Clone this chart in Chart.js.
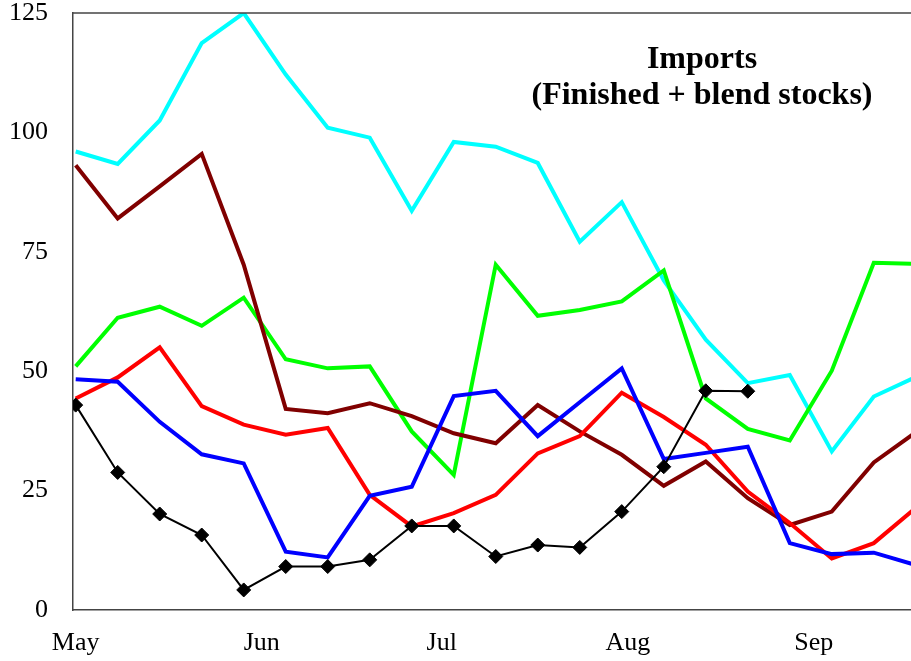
<!DOCTYPE html>
<html>
<head>
<meta charset="utf-8">
<script src="https://cdn.jsdelivr.net/npm/chart.js@4/dist/chart.umd.min.js"></script>
<style>
  html, body { margin: 0; padding: 0; background: #fff; }
  #wrap { width: 911px; height: 661px; }
</style>
</head>
<body>
<div id="wrap"><canvas id="importsChart" width="911" height="661"></canvas></div>
<script>
// days since May 1 for each weekly reading
const weekDays = [0, 7, 14, 21, 28, 35, 42, 49, 56, 63, 70, 77, 84, 91, 98, 105, 112, 119, 126, 133, 140];

// month axis labels, placed on the first of each month
const monthDays = [0, 31, 61, 92, 123];
const monthLabels = ['May', 'Jun', 'Jul', 'Aug', 'Sep'];
const yTicks = [0, 25, 50, 75, 100, 125];

const cyanVals  = [96.0, 93.4, 102.5, 118.7, 125.0, 112.1, 101.0, 98.9, 83.6, 98.0, 97.0, 93.6, 77.1, 85.4, 69.0, 56.6, 47.5, 49.2, 33.2, 44.7, 48.8];
const greenVals = [51.0, 61.2, 63.5, 59.5, 65.4, 52.5, 50.6, 51.0, 37.4, 28.3, 72.3, 61.6, 62.8, 64.6, 71.1, 44.3, 37.9, 35.5, 50.1, 72.7, 72.5];
const brownVals = [93.1, 82.0, 88.7, 95.5, 72.3, 42.1, 41.2, 43.3, 40.6, 37.0, 34.9, 42.9, 37.4, 32.5, 26.0, 31.1, 23.4, 17.8, 20.6, 30.9, 37.2];
const redVals   = [44.3, 48.7, 55.0, 42.7, 38.8, 36.7, 38.1, 24.1, 17.5, 20.3, 24.1, 32.8, 36.4, 45.5, 40.4, 34.6, 24.8, 18.2, 10.8, 14.0, 21.4];
const blueVals  = [48.3, 47.8, 39.4, 32.6, 30.7, 12.2, 11.0, 23.9, 25.8, 44.8, 45.9, 36.4, 43.5, 50.6, 31.6, 32.9, 34.2, 14.0, 11.7, 12.0, 9.4];
const blackVals = [42.9, 28.8, 20.1, 15.7, 4.2, 9.1, 9.1, 10.5, 17.6, 17.6, 11.2, 13.6, 13.1, 20.6, 30.0, 45.9, 45.8];

const titleLines = ['Imports', '(Finished + blend stocks)'];
const serif = '"Liberation Serif", "Times New Roman", Times, serif';

function toPoints(vals) {
    return vals.map((v, i) => ({ x: weekDays[i], y: v }));
}

function lineSet(label, vals, color, width) {
    return {
        label: label,
        data: toPoints(vals),
        borderColor: color,
        backgroundColor: color,
        borderWidth: width,
        pointRadius: 0,
        tension: 0,
        fill: false
    };
}

// frame line along the top + title text inside the plot
const frameAndTitle = {
    id: 'frameAndTitle',
    afterDraw(chart) {
        const { ctx, chartArea } = chart;
        ctx.save();
        ctx.strokeStyle = '#444';
        ctx.lineWidth = 1.5;
        ctx.beginPath();
        ctx.moveTo(chartArea.left, chartArea.top);
        ctx.lineTo(chartArea.right, chartArea.top);
        ctx.stroke();

        ctx.fillStyle = '#000';
        ctx.font = 'bold 32px ' + serif;
        ctx.textAlign = 'center';
        ctx.textBaseline = 'alphabetic';
        ctx.fillText(titleLines[0], 702, 68);
        ctx.fillText(titleLines[1], 702, 104);
        ctx.restore();
    }
};

const ctx = document.getElementById('importsChart').getContext('2d');
new Chart(ctx, {
    type: 'line',
    data: {
        datasets: [
            {
                label: 'Black',
                data: toPoints(blackVals),
                borderColor: '#000',
                backgroundColor: '#000',
                borderWidth: 2,
                pointStyle: 'rectRot',
                pointRadius: 7,
                pointBorderWidth: 1,
                tension: 0,
                fill: false
            },
            lineSet('Blue', blueVals, '#0000ff', 4),
            lineSet('Red', redVals, '#ff0000', 4),
            lineSet('Brown', brownVals, '#800000', 4),
            lineSet('Green', greenVals, '#00ff00', 4),
            lineSet('Cyan', cyanVals, '#00ffff', 4)
        ]
    },
    options: {
        responsive: false,
        animation: false,
        layout: { autoPadding: false, padding: { top: 13, right: 0, left: 0, bottom: 0 } },
        plugins: {
            legend: { display: false },
            tooltip: { enabled: false }
        },
        scales: {
            x: {
                type: 'linear',
                min: -0.45,
                max: 139.2,
                grid: { display: false, drawTicks: false },
                border: { display: true, color: '#444', width: 1.5 },
                afterBuildTicks: (scale) => {
                    scale.ticks = monthDays.map(v => ({ value: v }));
                },
                afterFit: (scale) => {
                    scale.height = 51;
                    scale.paddingLeft = 0;
                    scale.paddingRight = 0;
                },
                ticks: {
                    autoSkip: false,
                    maxRotation: 0,
                    padding: 18,
                    color: '#000',
                    font: { family: serif, size: 26 },
                    callback: (value) => monthLabels[monthDays.indexOf(value)]
                }
            },
            y: {
                min: 0,
                max: 125,
                grid: { display: false, drawTicks: false },
                border: { display: true, color: '#444', width: 1.5 },
                afterBuildTicks: (scale) => {
                    scale.ticks = yTicks.map(v => ({ value: v }));
                },
                afterFit: (scale) => {
                    scale.width = 73;
                    scale.paddingTop = 0;
                    scale.paddingBottom = 0;
                },
                ticks: {
                    padding: 25,
                    color: '#000',
                    font: { family: serif, size: 26 }
                }
            }
        }
    },
    plugins: [frameAndTitle]
});
</script>
</body>
</html>
